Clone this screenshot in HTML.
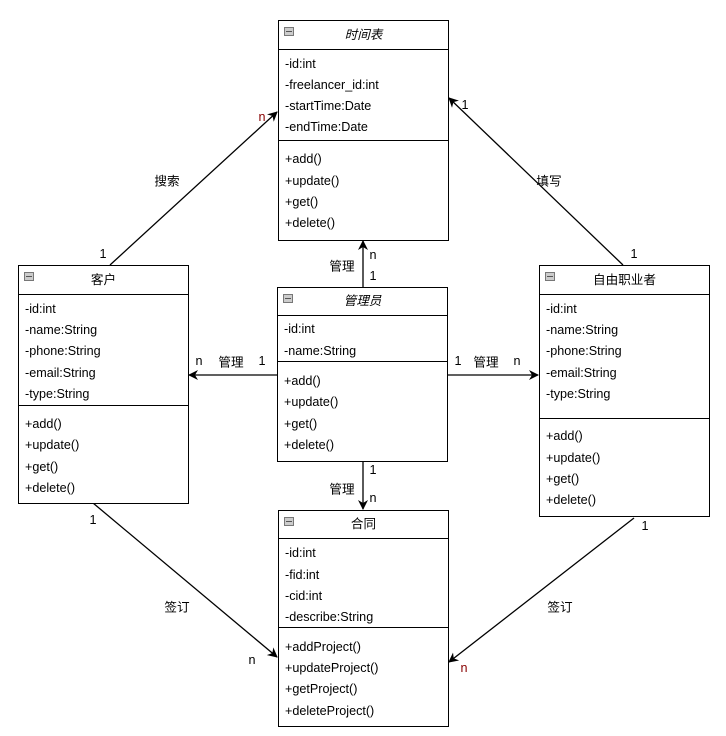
<!DOCTYPE html>
<html><head><meta charset="utf-8"><style>
body{margin:0;width:726px;height:736px;background:#fff;position:relative;font-family:"Liberation Sans","Noto Sans CJK SC",sans-serif;font-size:12.6px;color:#000;overflow:hidden}
.b{position:absolute;border:1px solid #000;background:#fff;box-sizing:border-box}
.h{position:absolute;left:0;right:0;top:0;border-bottom:1px solid #000;text-align:center}
.h i{font-style:italic}
.ic{position:absolute;left:5px;top:6px;width:8px;height:7px;border:1px solid #777;background:#ccc}
.ic:after{content:"";position:absolute;left:1px;right:1px;top:3px;height:1px;background:#555}
.r{position:absolute;left:6px;white-space:nowrap;margin-top:1px}
.d{position:absolute;left:0;right:0;border-top:1px solid #000}
.t{position:absolute;white-space:nowrap;transform:translate(-50%,-50%)}
</style></head><body>
<svg width="726" height="736" style="position:absolute;left:0;top:0">
<defs><marker id="a" markerWidth="10" markerHeight="10" refX="9" refY="5" orient="auto" markerUnits="userSpaceOnUse"><path d="M0,0 L10,5 L0,10 L3,5 z" fill="#000"/></marker></defs>
<g stroke="#000" stroke-width="1.3" fill="none" marker-end="url(#a)">
<line x1="110" y1="265" x2="277" y2="112"/>
<line x1="623" y1="265" x2="449" y2="98"/>
<line x1="363" y1="287" x2="363" y2="241"/>
<line x1="277" y1="375" x2="189" y2="375"/>
<line x1="447" y1="375" x2="538" y2="375"/>
<line x1="363" y1="461" x2="363" y2="509"/>
<line x1="93" y1="503" x2="277" y2="657"/>
<line x1="634" y1="518" x2="449" y2="662"/>
</g></svg>

<div class="b" style="left:278px;top:20px;width:171px;height:221px">
<div class="h" style="height:28px;line-height:28px"><i>时间表</i></div><div class="ic"></div>
<div class="r" style="top:35px">-id:int</div>
<div class="r" style="top:56px">-freelancer_id:int</div>
<div class="r" style="top:77px">-startTime:Date</div>
<div class="r" style="top:98px">-endTime:Date</div>
<div class="d" style="top:119px"></div>
<div class="r" style="top:130px">+add()</div>
<div class="r" style="top:152px">+update()</div>
<div class="r" style="top:173px">+get()</div>
<div class="r" style="top:194px">+delete()</div>
</div>

<div class="b" style="left:18px;top:265px;width:171px;height:239px">
<div class="h" style="height:28px;line-height:28px">客户</div><div class="ic"></div>
<div class="r" style="top:35px">-id:int</div>
<div class="r" style="top:56px">-name:String</div>
<div class="r" style="top:77px">-phone:String</div>
<div class="r" style="top:99px">-email:String</div>
<div class="r" style="top:120px">-type:String</div>
<div class="d" style="top:139px"></div>
<div class="r" style="top:150px">+add()</div>
<div class="r" style="top:171px">+update()</div>
<div class="r" style="top:193px">+get()</div>
<div class="r" style="top:214px">+delete()</div>
</div>

<div class="b" style="left:277px;top:287px;width:171px;height:175px">
<div class="h" style="height:27px;line-height:27px"><i>管理员</i></div><div class="ic"></div>
<div class="r" style="top:33px">-id:int</div>
<div class="r" style="top:55px">-name:String</div>
<div class="d" style="top:73px"></div>
<div class="r" style="top:85px">+add()</div>
<div class="r" style="top:106px">+update()</div>
<div class="r" style="top:128px">+get()</div>
<div class="r" style="top:149px">+delete()</div>
</div>

<div class="b" style="left:539px;top:265px;width:171px;height:252px">
<div class="h" style="height:28px;line-height:28px">自由职业者</div><div class="ic"></div>
<div class="r" style="top:35px">-id:int</div>
<div class="r" style="top:56px">-name:String</div>
<div class="r" style="top:77px">-phone:String</div>
<div class="r" style="top:99px">-email:String</div>
<div class="r" style="top:120px">-type:String</div>
<div class="d" style="top:152px"></div>
<div class="r" style="top:162px">+add()</div>
<div class="r" style="top:184px">+update()</div>
<div class="r" style="top:205px">+get()</div>
<div class="r" style="top:226px">+delete()</div>
</div>

<div class="b" style="left:278px;top:510px;width:171px;height:217px">
<div class="h" style="height:27px;line-height:27px">合同</div><div class="ic"></div>
<div class="r" style="top:34px">-id:int</div>
<div class="r" style="top:56px">-fid:int</div>
<div class="r" style="top:77px">-cid:int</div>
<div class="r" style="top:98px">-describe:String</div>
<div class="d" style="top:116px"></div>
<div class="r" style="top:128px">+addProject()</div>
<div class="r" style="top:149px">+updateProject()</div>
<div class="r" style="top:170px">+getProject()</div>
<div class="r" style="top:192px">+deleteProject()</div>
</div>

<div class="t" style="left:167px;top:180px">搜索</div>
<div class="t" style="left:103px;top:254px">1</div>
<div class="t" style="left:262px;top:117px;color:#800">n</div>
<div class="t" style="left:549px;top:180px">填写</div>
<div class="t" style="left:634px;top:254px">1</div>
<div class="t" style="left:465px;top:105px">1</div>
<div class="t" style="left:342px;top:265px">管理</div>
<div class="t" style="left:373px;top:255px">n</div>
<div class="t" style="left:373px;top:276px">1</div>
<div class="t" style="left:199px;top:361px">n</div>
<div class="t" style="left:231px;top:361px">管理</div>
<div class="t" style="left:262px;top:361px">1</div>
<div class="t" style="left:458px;top:361px">1</div>
<div class="t" style="left:486px;top:361px">管理</div>
<div class="t" style="left:517px;top:361px">n</div>
<div class="t" style="left:373px;top:470px">1</div>
<div class="t" style="left:342px;top:488px">管理</div>
<div class="t" style="left:373px;top:498px">n</div>
<div class="t" style="left:93px;top:520px">1</div>
<div class="t" style="left:177px;top:606px">签订</div>
<div class="t" style="left:252px;top:660px">n</div>
<div class="t" style="left:645px;top:526px">1</div>
<div class="t" style="left:560px;top:606px">签订</div>
<div class="t" style="left:464px;top:668px;color:#800">n</div>
</body></html>
